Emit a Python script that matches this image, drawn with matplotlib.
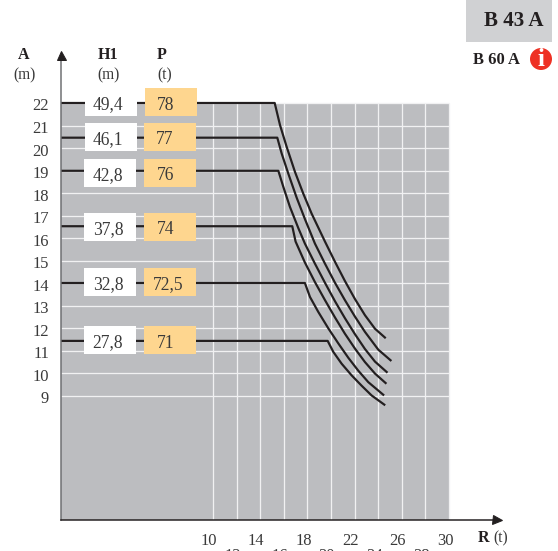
import matplotlib
matplotlib.use('Agg')
import matplotlib.pyplot as plt
from matplotlib.patches import Rectangle, Circle
from matplotlib.transforms import Affine2D, ScaledTranslation

plt.rcParams['font.family'] = ['Liberation Serif', 'DejaVu Serif']

# 데이터
A_TICKS = [22, 21, 20, 19, 18, 17, 16, 15, 14, 13, 12, 11, 10, 9]
R_TICKS_UPPER = [10, 14, 18, 22, 26, 30]
R_TICKS_LOWER = [12, 16, 20, 24, 28]
H1_LABELS = ['49,4', '46,1', '42,8', '37,8', '32,8', '27,8']
P_LABELS = ['78', '77', '76', '74', '72,5', '71']

R_1 = [-2.88, 15.23, 15.68, 16.24, 16.95, 17.65, 18.36, 19.49, 20.34, 21.18, 22.03, 22.88, 23.73, 24.57]
A_1 = [22.0, 22.0, 21.02, 20.06, 18.94, 17.98, 17.09, 15.85, 14.95, 14.10, 13.30, 12.58, 11.98, 11.59]
R_2 = [-2.88, 15.45, 15.82, 16.38, 17.09, 17.79, 18.64, 19.49, 20.34, 21.18, 22.03, 22.88, 24.01, 25.05]
A_2 = [20.46, 20.46, 19.76, 18.87, 17.80, 16.85, 15.76, 14.87, 14.02, 13.25, 12.52, 11.84, 11.05, 10.58]
R_3 = [-2.88, 15.54, 15.96, 16.52, 17.23, 17.79, 18.64, 19.49, 20.34, 21.18, 22.03, 22.88, 23.73, 24.72]
A_3 = [18.99, 18.99, 18.28, 17.39, 16.45, 15.76, 14.87, 14.02, 13.20, 12.45, 11.74, 11.08, 10.52, 10.06]
R_4 = [-2.88, 16.72, 17.00, 17.79, 18.64, 19.49, 20.34, 21.18, 22.03, 22.88, 23.73, 24.63]
A_4 = [16.53, 16.53, 15.85, 14.92, 14.05, 13.25, 12.48, 11.76, 11.10, 10.50, 9.99, 9.57]
R_5 = [-2.88, 17.79, 18.22, 18.92, 19.77, 20.62, 21.47, 22.31, 23.16, 24.43]
A_5 = [14.01, 14.01, 13.39, 12.73, 12.00, 11.33, 10.69, 10.12, 9.61, 9.05]
R_6 = [-2.88, 19.72, 20.20, 20.90, 21.75, 22.60, 23.44, 24.52]
A_6 = [11.44, 11.44, 10.95, 10.43, 9.91, 9.45, 9.02, 8.61]
CURVES = [(R_1, A_1), (R_2, A_2), (R_3, A_3), (R_4, A_4), (R_5, A_5), (R_6, A_6)]

# 색상
GRAY = '#bcbdc0'
ORANGE = '#fed68f'
DARK = '#231f20'
TEXT = '#3a3a3a'

W, H = 558, 551
fig = plt.figure(figsize=(W / 72, H / 72), dpi=72, facecolor='white')
# 축 영역: 왼쪽 61px, 오른쪽 497px, 위 55px, 아래 520px
ax = fig.add_axes([61 / W, 1 - 520 / H, (497 - 61) / W, (520 - 55) / H])
ax.set_xlim(-2.88, 34.07)
ax.set_ylim(3.49, 24.13)
ax.patch.set_alpha(0)

# 픽셀 좌표 (왼쪽 위 원점)
px = Affine2D().scale(1, -1).translate(0, H)

ax.add_patch(Rectangle((-2.88, 3.49), 32.88, 18.51, facecolor=GRAY, edgecolor='none', zorder=0))
ax.hlines(A_TICKS, -2.88, 30, color='#f1f1f2', lw=1.3, zorder=1)
ax.vlines(R_TICKS_UPPER + R_TICKS_LOWER, 3.49, 22, color='#f1f1f2', lw=1.3, zorder=1)

for r, a in CURVES:
    ax.plot(r, a, color=DARK, lw=2.2, solid_joinstyle='round', zorder=2)

# 축
for s in ['top', 'right']:
    ax.spines[s].set_visible(False)
ax.spines['left'].set_color('#6d6e71')
ax.spines['left'].set_linewidth(1.5)
ax.spines['bottom'].set_color(DARK)
ax.spines['bottom'].set_linewidth(1.5)
ax.plot(0, 1, '^', color=DARK, ms=9, transform=ax.transAxes, clip_on=False, zorder=6)
ax.plot(1, 0, '>', color=DARK, ms=9, transform=ax.transAxes, clip_on=False, zorder=6)

ax.set_yticks(A_TICKS)
ax.set_yticklabels([str(v) for v in A_TICKS], fontsize=16.5, color=TEXT)
ax.tick_params(axis='y', length=0, pad=12)
ax.set_xticks(R_TICKS_UPPER)
ax.set_xticklabels([str(v) for v in R_TICKS_UPPER], fontsize=16.5, color=TEXT)
ax.set_xticks(R_TICKS_LOWER, minor=True)
ax.set_xticklabels([str(v) for v in R_TICKS_LOWER], minor=True, fontsize=16.5, color=TEXT)
ax.tick_params(axis='x', which='major', length=0, pad=13)
ax.tick_params(axis='x', which='minor', length=0, pad=28)
shift = ScaledTranslation(-4 / 72, 0, fig.dpi_scale_trans)
for lab in ax.get_xticklabels() + ax.get_xticklabels(minor=True):
    lab.set_transform(lab.get_transform() + shift)
down = ScaledTranslation(0, -1.5 / 72, fig.dpi_scale_trans)
for lab in ax.get_yticklabels():
    lab.set_transform(lab.get_transform() + down)

# 표 상자
white_boxes = [(85, 88), (85, 123), (84, 159), (84, 213), (84, 268), (84, 326)]
orange_boxes = [(145, 88), (144, 123), (144, 159), (144, 213), (144, 268), (144, 326)]
text_y = [105, 140, 176, 230, 285, 343]
p_x = [166, 165, 166, 166, 168, 166]
for i in range(6):
    ax.add_patch(Rectangle(white_boxes[i], 52, 28, transform=px, facecolor='white',
                           edgecolor='none', clip_on=False, zorder=3))
    ax.add_patch(Rectangle(orange_boxes[i], 52, 28, transform=px, facecolor=ORANGE,
                           edgecolor='none', clip_on=False, zorder=3))
    ax.text(108, text_y[i], H1_LABELS[i], transform=px, ha='center', va='center',
            fontsize=17.5, color=TEXT, zorder=4)
    ax.text(p_x[i], text_y[i], P_LABELS[i], transform=px, ha='center', va='center',
            fontsize=17.5, color=TEXT, zorder=4)

# 머리글
for x, name, unit, ux in [(24, 'A', '(m)', 24), (108, 'H1', '(m)', 108), (162, 'P', '(t)', 165)]:
    ax.text(x, 55, name, transform=px, ha='center', va='center', fontsize=16,
            fontweight='bold', color=DARK)
    ax.text(ux, 75, unit, transform=px, ha='center', va='center', fontsize=15.5, color=TEXT)
ax.text(483, 538, 'R', transform=px, ha='center', va='center', fontsize=16,
        fontweight='bold', color=DARK)
ax.text(501, 538, '(t)', transform=px, ha='center', va='center', fontsize=15.5, color=TEXT)

# 오른쪽 위 표시
ax.add_patch(Rectangle((466, 0), 86, 42, transform=px, facecolor='#d0d1d3',
                       edgecolor='none', clip_on=False, zorder=3))
ax.text(514, 21, 'B 43 A', transform=px, ha='center', va='center', fontsize=21,
        fontweight='bold', color=DARK, zorder=4)
ax.text(496, 60, 'B 60 A', transform=px, ha='center', va='center', fontsize=16.5,
        fontweight='bold', color=DARK)
ax.add_patch(Circle((541, 59), 11, transform=px, facecolor='#ee3124', edgecolor='none',
                    clip_on=False, zorder=3))
ax.text(541, 59, 'i', transform=px, ha='center', va='center', fontsize=25,
        fontweight='bold', color='white', zorder=4)

fig.savefig('out.png', dpi=72)
